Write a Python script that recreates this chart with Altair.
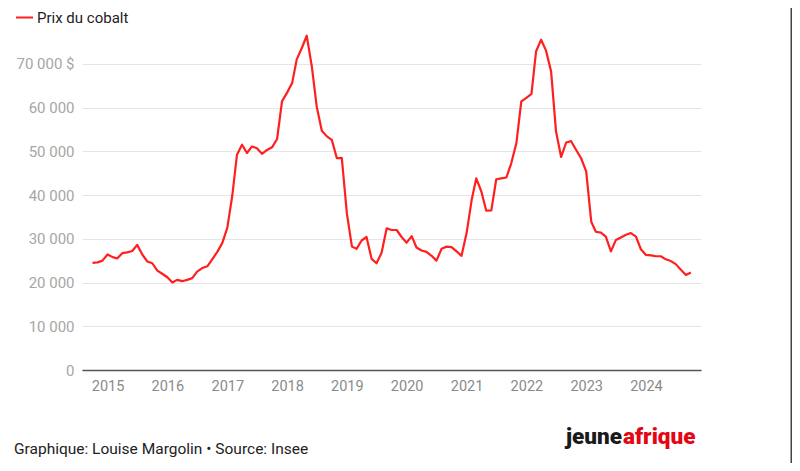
import altair as alt
import pandas as pd

# Monthly cobalt price (USD per tonne), Oct 2014 -> Oct 2024
prices = [
    24500, 24600, 25000, 26400, 25800, 25500, 26700, 26900, 27200, 28600,  # 2014-10 .. 2015-07
    26400, 24800, 24400, 22700, 22000, 21200, 20000, 20600, 20300, 20600,  # 2015-08 .. 2016-05
    21000, 22500, 23300, 23700, 25300, 27000, 29000, 32500, 40000, 49200,  # 2016-06 .. 2017-03
    51500, 49600, 51100, 50700, 49400, 50300, 50900, 52800, 61400, 63400,  # 2017-04 .. 2018-01
    65600, 71000, 73600, 76400, 69400, 60200, 54700, 53400, 52600, 48400,  # 2018-02 .. 2018-11
    48500, 35800, 28200, 27700, 29600, 30400, 25400, 24400, 26800, 32400,  # 2018-12 .. 2019-09
    32000, 32000, 30400, 29100, 30600, 28000, 27300, 27000, 26100, 25000,  # 2019-10 .. 2020-07
    27700, 28200, 28100, 27100, 26100, 31300, 38900, 43800, 40800, 36400,  # 2020-08 .. 2021-05
    36500, 43600, 43800, 44000, 47300, 51900, 61400, 62200, 63100, 72800,  # 2021-06 .. 2022-03
    75500, 73000, 68200, 54500, 48700, 52000, 52300, 50300, 48400, 45400,  # 2022-04 .. 2023-01
    33900, 31600, 31400, 30500, 27100, 29700, 30300, 30900, 31300, 30500,  # 2023-02 .. 2023-11
    27600, 26300, 26200, 26000, 26000, 25300, 24900, 24200, 22900, 21700,  # 2023-12 .. 2024-09
    22300,                                                                 # 2024-10
]
dates = pd.date_range("2014-10-01", periods=len(prices), freq="MS").strftime("%Y-%m-%d").tolist()
series_name = "Prix du cobalt"
y_ticks = [0, 10000, 20000, 30000, 40000, 50000, 60000, 70000]
footer_text = "Graphique: Louise Margolin \u2022 Source: Insee"
logo_left = "jeune"
logo_right = "afrique"

df = pd.DataFrame({"date": dates, "prix": prices, "serie": series_name})

RED = "#ff1f1f"
FONT = "Roboto"

label_expr = (
    "datum.value == 70000 ? '70 000 $' : "
    "replace(format(datum.value, ','), ',', ' ')"
)

line = alt.Chart(df).mark_line(strokeWidth=2.2, strokeJoin="round").encode(
    x=alt.X(
        "date:T",
        title=None,
        scale=alt.Scale(domain=[alt.DateTime(year=2014, month=7, date=29),
                                alt.DateTime(year=2024, month=12, date=2)]),
        axis=alt.Axis(format="%Y", tickCount={"interval": "year", "step": 1},
                      grid=False, ticks=False, domain=True, domainColor="#555555",
                      domainWidth=1.5, labelFont=FONT, labelFontSize=14.5,
                      labelColor="#8a8a8a", labelPadding=9, labelFlush=False),
    ),
    y=alt.Y(
        "prix:Q",
        title=None,
        scale=alt.Scale(domain=[0, 80000], nice=False),
        axis=alt.Axis(values=y_ticks, grid=True, gridColor="#e6e6e6", gridWidth=1,
                      ticks=False, domain=False, labelFont=FONT, labelFontSize=15,
                      labelColor="#a6a6a6", labelPadding=8, labelExpr=label_expr),
    ),
    color=alt.Color(
        "serie:N",
        scale=alt.Scale(range=[RED]),
        legend=alt.Legend(orient="none", legendX=-67, legendY=-12, title=None,
                          symbolType="stroke", symbolSize=289, symbolStrokeWidth=2,
                          labelFont=FONT, labelFontSize=15, labelColor="#222222",
                          padding=0, labelOffset=3),
    ),
)

footer = alt.Chart(pd.DataFrame({"t": [footer_text]})).mark_text(
    align="left", baseline="alphabetic", font=FONT, fontSize=15.5, color="#222222"
).encode(text="t:N", x=alt.value(-68), y=alt.value(434))

logo_a = alt.Chart(pd.DataFrame({"t": [logo_left]})).mark_text(
    align="right", baseline="alphabetic", font=FONT,
    fontWeight=900, fontSize=22.5, color="#1a1a1a"
).encode(text="t:N", x=alt.value(540), y=alt.value(424))

logo_b = alt.Chart(pd.DataFrame({"t": [logo_right]})).mark_text(
    align="left", baseline="alphabetic", font=FONT,
    fontWeight=900, fontSize=22.5, color="#e30613"
).encode(text="t:N", x=alt.value(541), y=alt.value(424))

border = alt.Chart(pd.DataFrame({"t": [0]})).mark_rule(color="#444444", strokeWidth=1.5).encode(
    x=alt.value(709.25), y=alt.value(-21), y2=alt.value(460)
)

chart = alt.layer(line, footer, logo_a, logo_b, border).properties(
    width=619,
    height=350,
    autosize=alt.AutoSizeParams(type="none"),
    padding={"left": 74, "top": 12, "right": 91, "bottom": 93},
    background="white",
).configure_view(stroke=None)

chart.save("out.html", embed_options={"renderer": "svg", "actions": False})
